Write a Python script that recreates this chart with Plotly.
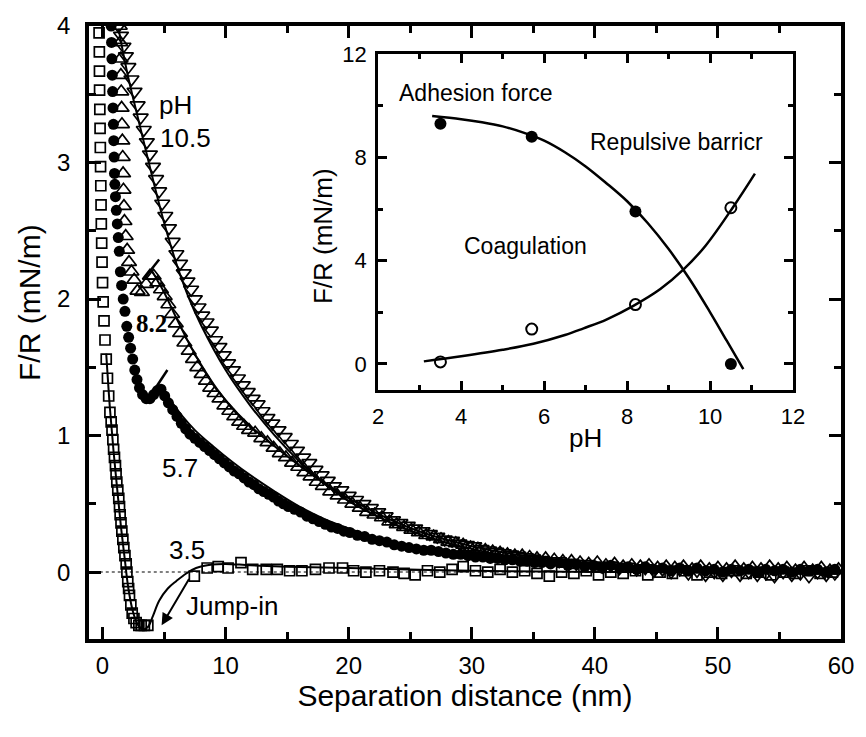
import plotly.graph_objects as go

FONT = "Liberation Sans, Arial, sans-serif"

# ---------------- main panel data ----------------
# pH 3.5 (open squares)
x35 = [-0.28, -0.26, -0.25, -0.24, -0.22, -0.2, -0.18, -0.16, -0.14, -0.12, -0.1, -0.07, -0.04, 0.0,
       0.05, 0.12, 0.2, 0.3, 0.4, 0.5, 0.6, 0.7, 0.77, 0.84, 0.9, 0.97, 1.05, 1.1, 1.16, 1.24, 1.32,
       1.38, 1.43, 1.5, 1.57, 1.65, 1.73, 1.82, 1.92, 1.98, 2.05, 2.12, 2.19, 2.3, 2.41, 2.55, 2.73,
       2.95, 3.14, 3.4, 3.68,
       7.46, 8.5, 9.4, 10.2, 11.25, 12.2, 13.3, 14.2, 15.2, 16.2, 17.3, 18.4, 19.5, 20.4, 21.4, 22.5,
       23.6, 24.5, 25.4, 26.4, 27.4, 28.4, 29.3, 30.3, 31.3, 32.3, 33.3, 34.3, 35.3, 36.3, 37.3, 38.3,
       39.3, 40.3, 41.3, 42.3, 43.3, 44.3, 45.3, 46.3, 47.3, 48.3, 49.3, 50.3, 51.3, 52.3, 53.3, 54.3,
       55.3, 56.3, 57.3, 58.3, 59.3]
y35 = [3.95, 3.81, 3.67, 3.53, 3.39, 3.25, 3.11, 2.97, 2.83, 2.69, 2.55, 2.41, 2.27, 2.12,
       1.98, 1.84, 1.7, 1.56, 1.42, 1.29, 1.17, 1.1, 1.04, 0.97, 0.9, 0.84, 0.78, 0.72, 0.66, 0.6, 0.54,
       0.48, 0.42, 0.36, 0.3, 0.24, 0.18, 0.12, 0.06, 0.0, -0.07, -0.12, -0.17, -0.24, -0.3, -0.34, -0.37,
       -0.39, -0.39, -0.39, -0.39,
       -0.03, 0.03, 0.04, 0.03, 0.07, 0.02, 0.02, 0.02, 0.01, 0.01, 0.02, 0.03, 0.03, 0.01, 0.0, 0.01,
       0.0, -0.01, -0.02, 0.01, 0.0, 0.02, 0.04, 0.01, 0.0, 0.02, 0.0, 0.01, -0.01, -0.03, 0.0, -0.01,
       0.01, -0.02, 0.0, -0.01, 0.01, -0.02, 0.0, -0.01, 0.01, -0.02, 0.0, -0.01, 0.01, -0.01, 0.0, -0.02,
       0.0, -0.01, 0.01, -0.01, 0.0]

# pH 5.7 (filled circles)
x57 = [0.70, 0.73, 0.76, 0.79, 0.82, 0.85, 0.88, 0.91, 0.94, 0.97, 1.0, 1.05, 1.12, 1.2, 1.28, 1.36,
       1.45, 1.55, 1.68, 1.82, 1.97, 2.12, 2.28, 2.45, 2.62, 2.8, 3.0, 3.25, 3.55, 3.85, 4.15, 4.45,
       4.75, 5.05, 5.35, 5.7, 6.05, 6.4, 6.75, 7.1, 7.5, 7.9, 8.3, 8.7, 9.1, 9.5, 9.9, 10.3, 10.7,
       11.1, 11.5, 11.9, 12.3, 12.7, 13.1, 13.5, 13.9, 14.3, 14.7, 15.1, 15.6, 16.1, 16.6, 17.1, 17.6,
       18.1, 18.6, 19.1, 19.6, 20.1, 20.7, 21.3, 21.9, 22.5, 23.1, 23.7, 24.3, 24.9, 25.5, 26.1, 26.7,
       27.3, 27.9, 28.5, 29.1, 29.7, 30.3, 30.9, 31.5, 32.1, 32.7, 33.3, 33.9, 34.5, 35.1, 35.7, 36.4,
       37.1, 37.8, 38.5, 39.2, 39.9, 40.6, 41.3, 42.0, 42.7, 43.4, 44.1, 44.8, 45.5, 46.2, 46.9, 47.6,
       48.3, 49.0, 49.7, 50.4, 51.1, 51.8, 52.5, 53.2, 53.9, 54.6, 55.3, 56.0, 56.7, 57.4, 58.1, 58.8,
       59.5]
y57 = [4.00, 3.88, 3.76, 3.64, 3.52, 3.40, 3.28, 3.16, 3.04, 2.92, 2.84, 2.75, 2.65, 2.55, 2.45, 2.35,
       2.20, 2.10, 2.00, 1.91, 1.80, 1.72, 1.64, 1.56, 1.48, 1.41, 1.35, 1.30, 1.27, 1.27, 1.30, 1.33,
       1.34, 1.29, 1.24, 1.19, 1.14, 1.09, 1.05, 1.01, 0.98, 0.95, 0.92, 0.89, 0.86, 0.83, 0.80, 0.77, 0.74,
       0.72, 0.69, 0.66, 0.64, 0.61, 0.59, 0.57, 0.55, 0.52, 0.50, 0.48, 0.46, 0.44, 0.41, 0.39, 0.37,
       0.35, 0.33, 0.32, 0.30, 0.29, 0.27, 0.26, 0.24, 0.23, 0.22, 0.20, 0.19, 0.18, 0.17, 0.16, 0.16,
       0.15, 0.14, 0.13, 0.13, 0.12, 0.11, 0.11, 0.10, 0.10, 0.09, 0.09, 0.08, 0.08, 0.07, 0.07, 0.06,
       0.07, 0.05, 0.06, 0.04, 0.05, 0.03, 0.05, 0.03, 0.04, 0.02, 0.04, 0.02, 0.03, 0.01, 0.03, 0.01,
       0.03, 0.01, 0.02, 0.00, 0.02, 0.01, 0.02, 0.00, 0.02, 0.01, 0.02, 0.00, 0.02, 0.01, 0.02, 0.00,
       0.02]

# pH 8.2 (open up-triangles)
x82 = [1.40, 1.43, 1.46, 1.49, 1.52, 1.55, 1.58, 1.61, 1.64, 1.67, 1.70, 1.74, 1.78, 1.88, 2.00, 2.15,
       2.35, 2.57, 2.84, 3.2, 3.55, 3.85, 4.15, 4.45, 4.75, 5.05, 5.35, 5.65, 5.95, 6.3, 6.65, 7.0, 7.35,
       7.7, 8.05, 8.4, 8.75, 9.1, 9.5, 9.9, 10.3, 10.7, 11.1, 11.5, 11.9, 12.4, 12.9, 13.4, 13.9, 14.4,
       14.9, 15.4, 15.9, 16.4, 16.9, 17.4, 17.9, 18.5, 19.1, 19.7, 20.3, 20.9, 21.5, 22.1, 22.7, 23.3,
       23.9, 24.5, 25.1, 25.7, 26.3, 26.9, 27.5, 28.1, 28.7, 29.3, 29.9, 30.5, 31.1, 31.7, 32.3, 32.9,
       33.5, 34.1, 34.7, 35.3, 36.0, 36.7, 37.4, 38.1, 38.8, 39.5, 40.2, 40.9, 41.6, 42.3, 43.0, 43.7,
       44.4, 45.1, 45.8, 46.5, 47.2, 47.9, 48.6, 49.3, 50.0, 50.7, 51.4, 52.1, 52.8, 53.5, 54.2, 54.9,
       55.6, 56.3, 57.0, 57.7, 58.4, 59.1, 59.8]
y82 = [4.00, 3.88, 3.76, 3.64, 3.52, 3.40, 3.28, 3.16, 3.04, 2.92, 2.80, 2.68, 2.57, 2.46, 2.36, 2.27,
       2.20, 2.14, 2.06, 2.05, 2.11, 2.17, 2.17, 2.12, 2.07, 2.02, 1.96, 1.89, 1.82, 1.75, 1.68, 1.62, 1.56,
       1.50, 1.45, 1.40, 1.35, 1.31, 1.27, 1.22, 1.18, 1.14, 1.10, 1.07, 1.04, 1.02, 0.98, 0.95, 0.91, 0.87,
       0.84, 0.80, 0.77, 0.73, 0.70, 0.66, 0.63, 0.59, 0.56, 0.53, 0.50, 0.47, 0.44, 0.42, 0.40, 0.37,
       0.35, 0.33, 0.31, 0.29, 0.27, 0.26, 0.24, 0.22, 0.21, 0.20, 0.18, 0.17, 0.16, 0.15, 0.14, 0.13,
       0.12, 0.12, 0.11, 0.10, 0.10, 0.09, 0.08, 0.08, 0.07, 0.06, 0.07, 0.05, 0.06, 0.04, 0.05, 0.04,
       0.05, 0.03, 0.04, 0.03, 0.04, 0.02, 0.04, 0.02, 0.03, 0.02, 0.04, 0.02, 0.03, 0.02, 0.04, 0.02,
       0.03, 0.01, 0.03, 0.01, 0.03, 0.01, 0.02]

# pH 10.5 (open down-triangles)
x105 = [1.3, 1.5, 1.7, 1.9, 2.1, 2.35, 2.6, 2.85, 3.1, 3.35, 3.6, 3.85, 4.1, 4.35, 4.6, 4.85, 5.1, 5.4,
        5.7, 6.0, 6.3, 6.6, 6.9, 7.2, 7.5, 7.8, 8.1, 8.45, 8.8, 9.15, 9.5, 9.85, 10.2, 10.6, 11.0, 11.4,
        11.8, 12.2, 12.6, 13.0, 13.4, 13.8, 14.3, 14.8, 15.3, 15.8, 16.3, 16.8, 17.3, 17.8, 18.3, 18.8,
        19.4, 20.0, 20.6, 21.2, 21.8, 22.4, 23.0, 23.6, 24.2, 24.8, 25.4, 26.0, 26.6, 27.2, 27.8, 28.4,
        29.0, 29.6, 30.2, 30.8, 31.4, 32.0, 32.6, 33.2, 33.8, 34.4, 35.0, 35.7, 36.4, 37.1, 37.8, 38.5,
        39.2, 39.9, 40.6, 41.3, 42.0, 42.7, 43.4, 44.1, 44.8, 45.5, 46.2, 46.9, 47.6, 48.3, 49.0, 49.7,
        50.4, 51.1, 51.8, 52.5, 53.2, 53.9, 54.6, 55.3, 56.0, 56.7, 57.4, 58.1, 58.8, 59.5]
y105 = [4.00, 3.93, 3.85, 3.78, 3.70, 3.61, 3.52, 3.42, 3.33, 3.24, 3.15, 3.06, 2.97, 2.88, 2.79, 2.70,
        2.61, 2.52, 2.42, 2.33, 2.26, 2.19, 2.13, 2.07, 2.00, 1.94, 1.88, 1.83, 1.77, 1.70, 1.65, 1.59,
        1.53, 1.48, 1.42, 1.37, 1.32, 1.27, 1.23, 1.18, 1.13, 1.09, 1.04, 0.99, 0.94, 0.89, 0.84, 0.80,
        0.75, 0.71, 0.67, 0.63, 0.60, 0.56, 0.53, 0.50, 0.47, 0.44, 0.41, 0.38, 0.36, 0.34, 0.32, 0.30,
        0.28, 0.26, 0.24, 0.23, 0.21, 0.20, 0.19, 0.17, 0.16, 0.15, 0.14, 0.13, 0.12, 0.11, 0.10, 0.09,
        0.08, 0.08, 0.07, 0.06, 0.06, 0.05, 0.04, 0.05, 0.03, 0.04, 0.02, 0.03, 0.01, 0.02, 0.00, 0.02,
        -0.01, 0.01, -0.02, 0.00, -0.02, 0.01, -0.02, 0.00, -0.02, -0.01, -0.03, 0.00, -0.02, -0.01,
        -0.03, 0.00, -0.02, -0.01]

# theoretical fits (solid lines)
fx35 = [0.3, 0.6, 0.9, 1.2, 1.5, 1.8, 2.1, 2.5, 2.9, 3.3, 3.7, 4.1, 4.6, 5.3, 6.0, 6.8, 7.6, 8.9, 10,
        12, 15, 20, 30, 40, 60]
fy35 = [1.6, 1.2, 0.88, 0.6, 0.33, 0.1, -0.12, -0.3, -0.39, -0.42, -0.40, -0.32, -0.21, -0.12, -0.065,
        -0.01, 0.03, 0.056, 0.06, 0.05, 0.04, 0.03, 0.01, 0.0, 0.0]
fx57 = [4.5, 5, 5.5, 6.5, 7.5, 9, 10.5, 12, 14, 16, 18, 20, 23, 26, 30, 35, 40, 50, 60]
fy57 = [1.37, 1.32, 1.26, 1.14, 1.04, 0.92, 0.81, 0.71, 0.59, 0.48, 0.39, 0.32, 0.23, 0.17, 0.11, 0.07,
        0.04, 0.015, 0.0]
fx82 = [4.0, 4.5, 5, 6, 7, 8, 9, 10, 12, 14, 16, 18, 20, 23, 26, 30, 35, 40, 50, 60]
fy82 = [2.21, 2.13, 2.05, 1.86, 1.68, 1.52, 1.38, 1.26, 1.07, 0.92, 0.78, 0.65, 0.54, 0.40, 0.29, 0.19,
        0.11, 0.06, 0.02, 0.0]
fx105 = [1.3, 2, 3, 4, 5, 6, 7, 8, 10, 12, 14, 16, 18, 20, 23, 26, 30, 35, 40, 50, 60]
fy105 = [3.98, 3.66, 3.28, 2.91, 2.56, 2.26, 2.01, 1.81, 1.48, 1.22, 1.0, 0.81, 0.65, 0.52, 0.38, 0.27,
         0.17, 0.09, 0.05, 0.01, -0.01]

zero_x = [-1.2, 60.3]
zero_y = [0, 0]

# ---------------- inset data ----------------
ph_pts = [3.5, 5.7, 8.2, 10.5]
adhesion = [9.3, 8.8, 5.9, 0.0]
barrier = [0.08, 1.35, 2.3, 6.05]
adh_fit_x = [3.3, 4.0, 4.5, 5.0, 5.5, 6.0, 6.5, 7.0, 7.5, 8.0, 8.5, 9.0, 9.5, 10.0, 10.4, 10.8]
adh_fit_y = [9.6, 9.48, 9.36, 9.2, 8.96, 8.65, 8.2, 7.65, 7.0, 6.3, 5.45, 4.45, 3.3, 2.0, 0.9, -0.2]
bar_fit_x = [3.1, 4.0, 5.0, 5.74, 6.5, 6.95, 7.5, 8.15, 8.8, 9.36, 9.9, 10.56, 11.08]
bar_fit_y = [0.1, 0.3, 0.55, 0.78, 1.12, 1.38, 1.72, 2.25, 2.9, 3.66, 4.6, 6.09, 7.37]

fig = go.Figure()

fig.add_trace(go.Scatter(x=zero_x, y=zero_y, mode="lines",
                         line=dict(color="#555", width=1.5, dash="dot"), showlegend=False))

fig.add_trace(go.Scatter(x=x35, y=y35, mode="markers", name="pH 3.5",
                         marker=dict(symbol="square-open", size=10, color="black", line=dict(width=1.7))))
fig.add_trace(go.Scatter(x=x57, y=y57, mode="markers", name="pH 5.7",
                         marker=dict(symbol="circle", size=11, color="black")))
fig.add_trace(go.Scatter(x=x82, y=y82, mode="markers", name="pH 8.2",
                         marker=dict(symbol="triangle-up-open", size=13, color="black", line=dict(width=1.7))))
fig.add_trace(go.Scatter(x=x105, y=y105, mode="markers", name="pH 10.5",
                         marker=dict(symbol="triangle-down-open", size=13, color="black", line=dict(width=1.7))))

for fx, fy in [(fx35, fy35), (fx57, fy57), (fx82, fy82), (fx105, fy105)]:
    fig.add_trace(go.Scatter(x=fx, y=fy, mode="lines", line=dict(color="black", width=2, shape="spline"),
                             showlegend=False))

# inset traces
fig.add_trace(go.Scatter(x=adh_fit_x, y=adh_fit_y, mode="lines", xaxis="x2", yaxis="y2",
                         line=dict(color="black", width=2.5, shape="spline"), showlegend=False))
fig.add_trace(go.Scatter(x=bar_fit_x, y=bar_fit_y, mode="lines", xaxis="x2", yaxis="y2",
                         line=dict(color="black", width=2.5, shape="spline"), showlegend=False))
fig.add_trace(go.Scatter(x=ph_pts, y=adhesion, mode="markers", xaxis="x2", yaxis="y2", name="Adhesion force",
                         marker=dict(symbol="circle", size=12, color="black")))
fig.add_trace(go.Scatter(x=ph_pts, y=barrier, mode="markers", xaxis="x2", yaxis="y2", name="Repulsive barrier",
                         marker=dict(symbol="circle-open", size=11, color="black", line=dict(width=2))))

axis_common = dict(showline=True, linecolor="black", mirror="ticks", ticks="inside",
                   tickcolor="black", showgrid=False, zeroline=False)

fig.update_layout(
    width=866, height=737,
    margin=dict(l=89, r=23, t=21, b=98),
    paper_bgcolor="white", plot_bgcolor="white",
    showlegend=False,
    font=dict(family=FONT, color="black"),
    xaxis=dict(range=[-1.1, 60], linewidth=3.5, ticklen=12, tickwidth=2.5, dtick=10, tick0=0,
               tickfont=dict(size=24), ticklabelstandoff=2,
               minor=dict(dtick=5, ticklen=7, tickwidth=2.5, ticks="inside", tickcolor="black"),
               title=dict(text="Separation distance (nm)", font=dict(size=30), standoff=2),
               **axis_common),
    yaxis=dict(range=[-0.49, 4.0], linewidth=3.5, ticklen=12, tickwidth=2.5, dtick=1, tick0=0,
               tickfont=dict(size=24), ticklabelstandoff=10,
               minor=dict(dtick=0.5, ticklen=7, tickwidth=2.5, ticks="inside", tickcolor="black"),
               **axis_common),
    xaxis2=dict(domain=[0.3846, 0.9363], anchor="y2", range=[2, 12], linewidth=3, ticklen=9, tickwidth=2.5,
                dtick=2, tick0=0, tickfont=dict(size=22), ticklabelstandoff=4,
                minor=dict(dtick=1, ticklen=5, tickwidth=2.5, ticks="inside", tickcolor="black"),
                title=dict(text="pH", font=dict(size=26), standoff=2),
                **axis_common),
    yaxis2=dict(domain=[0.4057, 0.9542], anchor="x2", range=[-1.02, 12], linewidth=3, ticklen=9, tickwidth=2.5,
                dtick=4, tick0=0, tickfont=dict(size=22), ticklabelstandoff=4,
                minor=dict(dtick=2, ticklen=5, tickwidth=2.5, ticks="inside", tickcolor="black"),
                **axis_common),
)

# y-axis titles (placed as in the reference)
fig.add_annotation(x=-0.0782, y=0.5485, xref="paper", yref="paper", xanchor="center", yanchor="middle",
                   text="F/R (mN/m)", textangle=-90, showarrow=False,
                   font=dict(family=FONT, size=30, color="black"))
fig.add_annotation(x=0.3103, y=0.6578, xref="paper", yref="paper", xanchor="center", yanchor="middle",
                   text="F/R (mN/m)", textangle=-90, showarrow=False,
                   font=dict(family=FONT, size=26, color="black"))

ann_font = dict(family=FONT, size=26, color="black")
for txt, ax_, ay_ in [("pH", 5.96, 3.42), ("10.5", 6.77, 3.18), ("5.7", 6.28, 0.76), ("3.5", 6.85, 0.165),
                      ("Jump-in", 10.5, -0.25)]:
    fig.add_annotation(x=ax_, y=ay_, text=txt, showarrow=False, font=ann_font, xref="x", yref="y")
fig.add_annotation(x=4.0, y=1.82, text="<b>8.2</b>", showarrow=False, xref="x", yref="y",
                   font=dict(family="Liberation Serif, Times New Roman, serif", size=25, color="black"))

# jump-in arrow
fig.add_annotation(x=4.8, y=-0.39, ax=7.1, ay=-0.04, xref="x", yref="y", axref="x", ayref="y",
                   text="", showarrow=True, arrowhead=2, arrowsize=1.2, arrowwidth=2, arrowcolor="black")
# small pointer lines at the kinks
fig.add_shape(type="line", x0=4.6, y0=2.29, x1=3.38, y1=2.15, xref="x", yref="y",
              line=dict(color="black", width=2.5))
fig.add_shape(type="line", x0=5.27, y0=1.48, x1=4.32, y1=1.35, xref="x", yref="y",
              line=dict(color="black", width=2.5))

inset_font = dict(family=FONT, size=23, color="black")
fig.add_annotation(x=4.34, y=10.5, text="Adhesion force", showarrow=False, font=inset_font, xref="x2", yref="y2")
fig.add_annotation(x=9.18, y=8.6, text="Repulsive barricr", showarrow=False, font=inset_font, xref="x2", yref="y2")
fig.add_annotation(x=5.55, y=4.57, text="Coagulation", showarrow=False, font=inset_font, xref="x2", yref="y2")

fig.write_html("out.html")
